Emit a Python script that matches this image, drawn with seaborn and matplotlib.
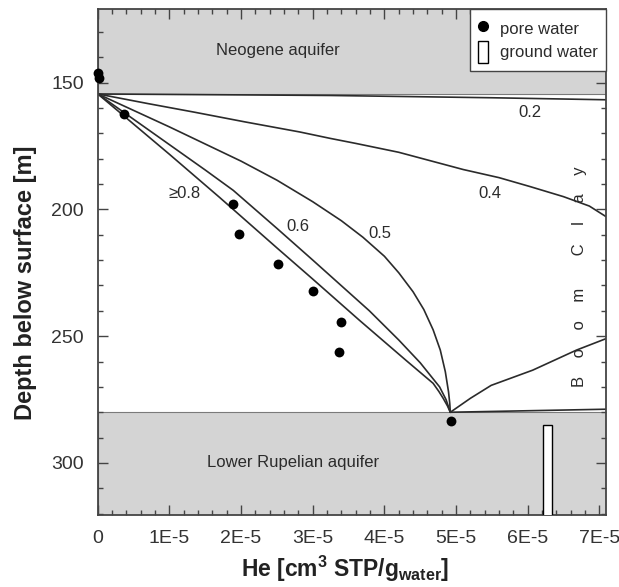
import numpy as np
import pandas as pd
import matplotlib
matplotlib.use("Agg")
import matplotlib.pyplot as plt
from matplotlib.lines import Line2D
from matplotlib.patches import Patch
from matplotlib.ticker import MultipleLocator, FuncFormatter
import seaborn as sns

HE_UNIT = 1e-5  # values below are given in units of 1E-5 cm3 STP/g water

# pore water samples
pore_he = [0.0, 0.02, 0.37, 1.89, 1.97, 2.52, 3.00, 3.39, 3.36, 4.93]
pore_depth = [146.3, 148.3, 162.3, 197.8, 209.6, 221.4, 232.2, 244.4, 256.2, 283.5]

# ground water range (Lower Rupelian aquifer)
gw_he = [6.21, 6.34]
gw_depth = [285.0, 321.0]

# aquifer boundaries [m]
neogene_base = 154.5
rupelian_top = 280.0

# model profiles (label -> branches of he / depth)
he_08 = [0, 0.37, 1.0, 1.70, 2.5, 3.0, 3.65, 4.3, 4.68, 4.76, 4.82, 4.88, 4.92]
depth_08 = [154.5, 163.3, 178.3, 195.3, 215.2, 227.5, 243.7, 259.5, 268.6, 271.8, 274.5, 277.5, 280]

he_06 = [0, 0.5, 1.0, 1.5, 1.89, 2.5, 3.0, 3.47, 3.79, 4.2, 4.5, 4.77, 4.86, 4.92]
depth_06 = [154.5, 164.5, 174.5, 184.5, 192.5, 207.5, 220, 231.9, 240, 251.5, 260.5, 270, 275, 280]

he_05 = [0, 1.0, 2.0, 2.5, 3.0, 3.4, 3.7, 4.0, 4.2, 4.4, 4.55, 4.68, 4.78, 4.85, 4.895, 4.912, 4.92]
depth_05 = [154.5, 167.5, 181.0, 188.5, 197.0, 204.5, 211.0, 218.5, 225.0, 232.5, 239.5, 247.5, 255.5, 264.0, 272.0, 276.5, 280]

he_04_top = [0, 0.7, 1.35, 2.05, 2.82, 3.24, 3.6, 4.2, 5.1, 5.6, 6.03, 6.5, 6.86, 7.1]
depth_04_top = [154.5, 158.3, 161.7, 165.5, 169.5, 172, 174, 177.5, 184.3, 187.5, 191, 195, 198.7, 203]
he_04_bot = [4.92, 5.2, 5.49, 6.07, 6.68, 7.1]
depth_04_bot = [280, 274.5, 269.4, 263.4, 255.5, 250.9]

he_02_top = [0, 3.24, 5.5, 7.1]
depth_02_top = [154.5, 155.1, 156.0, 156.8]
he_02_bot = [4.92, 7.1]
depth_02_bot = [280, 278.8]

curve_labels = ["\u22650.8", "0.6", "0.5", "0.4", "0.2"]
label_he = [1.21, 2.79, 3.93, 5.47, 6.03]
label_depth = [193.7, 206.7, 209.6, 193.8, 161.7]

sns.set_style("ticks")
plt.rcParams['font.family'] = ['Liberation Sans', 'DejaVu Sans']
plt.rcParams['mathtext.fontset'] = 'custom'
plt.rcParams['mathtext.rm'] = 'Liberation Sans'
plt.rcParams['mathtext.bf'] = 'Liberation Sans:bold'
plt.rcParams['mathtext.default'] = 'bf'

ink = '#2b2b2b'
axis_col = '#444444'
band_col = '#d4d4d4'

fig = plt.figure(figsize=(6.19, 5.87), dpi=100)
ax = fig.add_axes([0.158, 0.1227, 0.8207, 0.862])

ax.axhspan(100, neogene_base, facecolor=band_col, edgecolor='#7a7a7a', linewidth=0.8, zorder=0)
ax.axhspan(rupelian_top, 400, facecolor=band_col, edgecolor='#7a7a7a', linewidth=0.8, zorder=0)

branches = [(he_08, depth_08), (he_06, depth_06), (he_05, depth_05),
            (he_04_top, depth_04_top), (he_04_bot, depth_04_bot),
            (he_02_top, depth_02_top), (he_02_bot, depth_02_bot)]
for he, depth in branches:
    df = pd.DataFrame({'he': np.array(he) * HE_UNIT, 'depth': depth})
    sns.lineplot(data=df, x='he', y='depth', sort=False, estimator=None,
                 color=ink, linewidth=1.2, ax=ax, zorder=2)

pore_df = pd.DataFrame({'he': np.array(pore_he) * HE_UNIT, 'depth': pore_depth})
sns.scatterplot(data=pore_df, x='he', y='depth', color='black', s=50,
                edgecolor='black', linewidth=0, ax=ax, zorder=4, clip_on=False)

gw_lo, gw_hi = np.array(gw_he) * HE_UNIT
ax.bar((gw_lo + gw_hi) / 2, gw_depth[1] - gw_depth[0], bottom=gw_depth[0],
       width=gw_hi - gw_lo, color='white', edgecolor='black', linewidth=1.0, zorder=3)

for lab, x, y in zip(curve_labels, label_he, label_depth):
    ax.text(x * HE_UNIT, y, lab, fontsize=12, color=ink, ha='center', va='center')

ax.text(2.52 * HE_UNIT, 137.4, "Neogene aquifer", fontsize=12, color=ink, ha='center', va='center')
ax.text(2.72 * HE_UNIT, 300.0, "Lower Rupelian aquifer", fontsize=12, color=ink, ha='center', va='center')
ax.text(6.72 * HE_UNIT, 226.5, "B    o    o    m       C    l    a    y", fontsize=12,
        color=ink, rotation=90, ha='center', va='center')

ax.set_xlim(0, 7.09e-5)
ax.set_ylim(320.5, 121)
ax.xaxis.set_major_locator(MultipleLocator(1e-5))
ax.xaxis.set_minor_locator(MultipleLocator(2e-6))
ax.yaxis.set_major_locator(MultipleLocator(50))
ax.yaxis.set_minor_locator(MultipleLocator(10))
ax.xaxis.set_major_formatter(FuncFormatter(
    lambda v, p: "0" if abs(v) < 1e-9 else f"{int(round(v / 1e-5))}E-5"))

ax.tick_params(which='both', direction='in', top=True, right=True, colors=axis_col,
               labelcolor='#333333', labelsize=14, width=1.0)
ax.tick_params(which='major', length=7)
ax.tick_params(which='minor', length=3.5)
ax.tick_params(axis='x', pad=11)
ax.tick_params(axis='y', pad=10)
for sp in ax.spines.values():
    sp.set_color(axis_col)
    sp.set_linewidth(1.3)

ax.set_xlabel(r"He [cm$^3$ STP/g$_{water}$]", fontsize=16.5, fontweight='bold', color='#222222')
ax.set_ylabel("Depth below surface [m]", fontsize=17, fontweight='bold', color='#222222')
ax.xaxis.set_label_coords(0.487, -0.076)
ax.yaxis.set_label_coords(-0.12, 0.458)

handles = [Line2D([], [], marker='o', color='black', linestyle='none', markersize=7),
           Patch(facecolor='white', edgecolor='black', linewidth=1.0)]
leg = ax.legend(handles, ["pore water", "ground water"], loc='upper right', fontsize=12,
                frameon=True, fancybox=False, framealpha=1, edgecolor=axis_col,
                borderaxespad=0, handlelength=0.6, handleheight=1.7, labelspacing=0.05,
                handletextpad=0.7, borderpad=0.5)
leg.get_frame().set_linewidth(1.0)
for t in leg.get_texts():
    t.set_color(ink)

fig.savefig("out.png", dpi=100)
